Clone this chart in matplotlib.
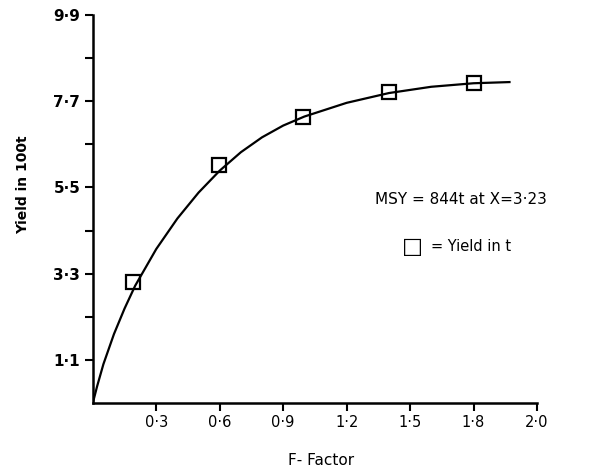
import matplotlib.pyplot as plt

# data
curve_x = [0, 0.02, 0.05, 0.1, 0.15, 0.2, 0.3, 0.4, 0.5, 0.6, 0.7, 0.8, 0.9, 1.0, 1.2, 1.4, 1.6, 1.8, 1.97]
curve_y = [0, 0.42, 0.99, 1.76, 2.41, 2.99, 3.93, 4.71, 5.37, 5.93, 6.40, 6.78, 7.08, 7.31, 7.66, 7.91, 8.07, 8.16, 8.19]
obs_x = [0.19, 0.595, 0.995, 1.40, 1.80]
obs_y = [3.09, 6.07, 7.30, 7.93, 8.16]

xtick_pos = [0.3, 0.6, 0.9, 1.2, 1.5, 1.8, 2.1]
xtick_lab = ['0·3', '0·6', '0·9', '1·2', '1·5', '1·8', '2·0']
ytick_pos = [1.1, 3.3, 5.5, 7.7, 9.9]
ytick_lab = ['1·1', '3·3', '5·5', '7·7', '9·9']
yminor = [2.2, 4.4, 6.6, 8.8]

fig = plt.figure(figsize=(5.95, 4.71), dpi=100)
ax = fig.add_axes([0.156, 0.1444, 0.7465, 0.8236])

ax.plot(curve_x, curve_y, color='black', lw=1.6)
ax.plot(obs_x, obs_y, linestyle='none', marker='s', ms=10, mfc='none',
        mec='black', mew=1.6)

ax.set_xlim(0, 2.1)
ax.set_ylim(0, 9.9)
for s in ['top', 'right']:
    ax.spines[s].set_visible(False)
for s in ['left', 'bottom']:
    ax.spines[s].set_linewidth(1.8)

ax.set_xticks(xtick_pos)
ax.set_xticklabels(xtick_lab, fontsize=10.5)
ax.set_yticks(ytick_pos)
ax.set_yticklabels(ytick_lab, fontsize=11, fontweight='bold')
ax.set_yticks(yminor, minor=True)
ax.tick_params(axis='both', which='both', direction='out', length=6, width=1.5, pad=3)

fig.text(0.039, 0.607, 'Yield in 100t', rotation=90, ha='center', va='center',
         fontsize=10, fontweight='bold')
fig.text(0.54, 0.023, 'F- Factor', ha='center', va='center', fontsize=11)

fig.text(0.775, 0.577, 'MSY = 844t at X=3·23', ha='center', va='center', fontsize=11)
fig.text(0.694, 0.476, '□', ha='center', va='center', fontsize=16)
fig.text(0.725, 0.476, '= Yield in t', ha='left', va='center', fontsize=10.5)

fig.savefig('out.png', dpi=100)
